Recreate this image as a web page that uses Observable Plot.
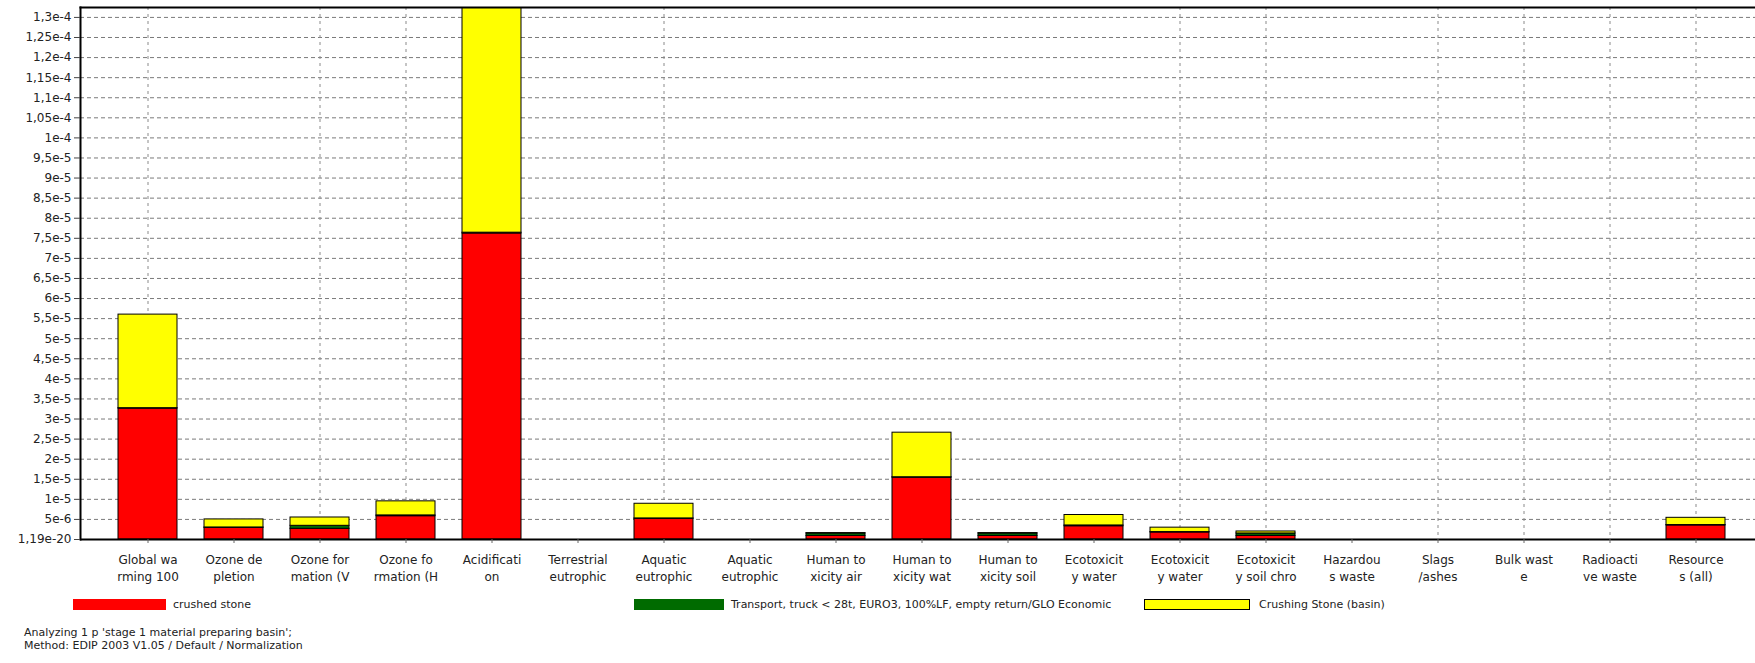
<!DOCTYPE html>
<html>
<head>
<meta charset="utf-8">
<script src="https://cdn.jsdelivr.net/npm/d3@7"></script>
<script src="https://cdn.jsdelivr.net/npm/@observablehq/plot@0.6"></script>
<style>
  html, body { margin: 0; padding: 0; background: #fff; }
  #wrap { position: relative; width: 1755px; height: 663px; overflow: hidden; font-family: "DejaVu Sans", sans-serif; color: #222; }
  #chart { position: absolute; left: 0; top: 0; }
  .sw { position: absolute; height: 11px; box-sizing: border-box; }
  .lt { position: absolute; font-size: 11px; line-height: 13px; white-space: nowrap; }
  .ft { position: absolute; left: 24px; font-size: 11px; line-height: 13px; white-space: nowrap; }
</style>
</head>
<body>
<div id="wrap">
  <div id="chart"></div>
  <div id="legend"></div>
  <div class="ft" id="foot1" style="top:626px"></div>
  <div class="ft" id="foot2" style="top:639px"></div>
</div>
<script>
// ---- data ----
const categories = [
  "Global warming 100a", "Ozone depletion", "Ozone formation (Vegetation)", "Ozone formation (Human)",
  "Acidification", "Terrestrial eutrophication", "Aquatic eutrophication EP(N)", "Aquatic eutrophication EP(P)",
  "Human toxicity air", "Human toxicity water", "Human toxicity soil", "Ecotoxicity water chronic",
  "Ecotoxicity water acute", "Ecotoxicity soil chronic", "Hazardous waste", "Slags/ashes",
  "Bulk waste", "Radioactive waste", "Resources (all)"
];
const xTickLabels = [
  "Global wa\nrming 100", "Ozone de\npletion", "Ozone for\nmation (V", "Ozone fo\nrmation (H",
  "Acidificati\non", "Terrestrial\neutrophic", "Aquatic\neutrophic", "Aquatic\neutrophic",
  "Human to\nxicity air", "Human to\nxicity wat", "Human to\nxicity soil", "Ecotoxicit\ny water",
  "Ecotoxicit\ny water", "Ecotoxicit\ny soil chro", "Hazardou\ns waste", "Slags\n/ashes",
  "Bulk wast\ne", "Radioacti\nve waste", "Resource\ns (all)"
];
const seriesNames = [
  "crushed stone",
  "Transport, truck < 28t, EURO3, 100%LF, empty return/GLO Economic",
  "Crushing Stone (basin)"
];
const seriesColors = ["#ff0000", "#006b00", "#ffff00"];
const crushedStone  = [3.26e-5, 2.9e-6, 2.66e-6, 5.8e-6, 7.62e-5, 0, 5.15e-6, 0, 0.9e-6, 1.54e-5, 0.9e-6, 3.3e-6, 1.75e-6, 0.9e-6, 0, 0, 0, 0, 3.5e-6];
const transport     = [1e-7, 1e-7, 7.5e-7, 2e-7, 2e-7, 0, 1e-7, 0, 6e-7, 1e-7, 6e-7, 2e-7, 1e-7, 6e-7, 0, 0, 0, 0, 1e-7];
const crushingStone = [2.33e-5, 2.0e-6, 2.07e-6, 3.5e-6, 5.8e-5, 0, 3.65e-6, 0, 1e-7, 1.11e-5, 1e-7, 2.6e-6, 1.1e-6, 5e-7, 0, 0, 0, 0, 1.8e-6];
const yTicks = [1.19e-20, 5e-6, 1e-5, 1.5e-5, 2e-5, 2.5e-5, 3e-5, 3.5e-5, 4e-5, 4.5e-5, 5e-5, 5.5e-5, 6e-5, 6.5e-5,
  7e-5, 7.5e-5, 8e-5, 8.5e-5, 9e-5, 9.5e-5, 1e-4, 1.05e-4, 1.1e-4, 1.15e-4, 1.2e-4, 1.25e-4, 1.3e-4];
const yTickLabels = ["1,19e-20", "5e-6", "1e-5", "1,5e-5", "2e-5", "2,5e-5", "3e-5", "3,5e-5", "4e-5", "4,5e-5",
  "5e-5", "5,5e-5", "6e-5", "6,5e-5", "7e-5", "7,5e-5", "8e-5", "8,5e-5", "9e-5", "9,5e-5", "1e-4", "1,05e-4",
  "1,1e-4", "1,15e-4", "1,2e-4", "1,25e-4", "1,3e-4"];
const yMax = 1.3247e-4;
const vGridCategories = [0, 2, 3, 6, 12, 13, 15, 16, 17, 18].map(i => categories[i]);
const footerLines = [
  "Analyzing 1 p 'stage 1 material preparing basin';",
  "Method: EDIP 2003 V1.05 / Default / Normalization"
];

// ---- build table ----
const seriesValues = [crushedStone, transport, crushingStone];
const rows = [];
seriesValues.forEach((vals, s) => {
  vals.forEach((v, i) => { if (v > 0) rows.push({category: categories[i], series: seriesNames[s], value: v}); });
});
const labelOf = new Map(categories.map((c, i) => [c, xTickLabels[i]]));
const yLabelOf = new Map(yTicks.map((t, i) => [t, yTickLabels[i]]));

const chart = Plot.plot({
  width: 1755,
  height: 590,
  marginTop: 7,
  marginBottom: 51,
  marginLeft: 80,
  marginRight: 0,
  style: {fontFamily: "DejaVu Sans, sans-serif", fontSize: "12px", color: "#222", background: "#fff", overflow: "visible"},
  x: {domain: categories, range: [84, 1760], paddingInner: 0.31, paddingOuter: 0.31},
  y: {domain: [0, yMax]},
  color: {domain: seriesNames, range: seriesColors},
  marks: [
    Plot.ruleY(yTicks.slice(1), {stroke: "#7a7a7a", strokeWidth: 1, strokeDasharray: "4,3"}),
    Plot.ruleX(vGridCategories, {x: d => d, stroke: "#8a8a8a", strokeWidth: 1, strokeDasharray: "3,4"}),
    Plot.barY(rows, {x: "category", y: "value", fill: "series", stroke: "black", strokeWidth: 1, clip: true}),
    Plot.ruleY([0], {stroke: "black", strokeWidth: 2}),
    Plot.frame({anchor: "left", stroke: "black", strokeWidth: 2}),
    Plot.frame({anchor: "top", stroke: "black", strokeWidth: 2}),
    Plot.axisY({ticks: yTicks, tickFormat: d => yLabelOf.get(d), tickSize: 6, tickPadding: 3, fontSize: 12, label: null, stroke: "#444"}),
    Plot.axisX({tickFormat: d => labelOf.get(d), tickSize: 4, tickPadding: 9, fontSize: 12, lineHeight: 1.4, label: null, stroke: "#666"})
  ]
});
document.getElementById("chart").appendChild(chart);

// ---- legend ----
const legendPos = [
  {sw: 73, w: 93, tx: 173},
  {sw: 634, w: 90, tx: 731},
  {sw: 1144, w: 106, tx: 1259}
];
const legend = document.getElementById("legend");
seriesNames.forEach((name, i) => {
  const sw = document.createElement("div");
  sw.className = "sw";
  sw.style.left = legendPos[i].sw + "px";
  sw.style.top = "599px";
  sw.style.width = legendPos[i].w + "px";
  sw.style.background = seriesColors[i];
  if (i === 2) sw.style.border = "1px solid #000";
  legend.appendChild(sw);
  const t = document.createElement("div");
  t.className = "lt";
  t.style.left = legendPos[i].tx + "px";
  t.style.top = "598px";
  t.textContent = name;
  legend.appendChild(t);
});
document.getElementById("foot1").textContent = footerLines[0];
document.getElementById("foot2").textContent = footerLines[1];
</script>
</body>
</html>
